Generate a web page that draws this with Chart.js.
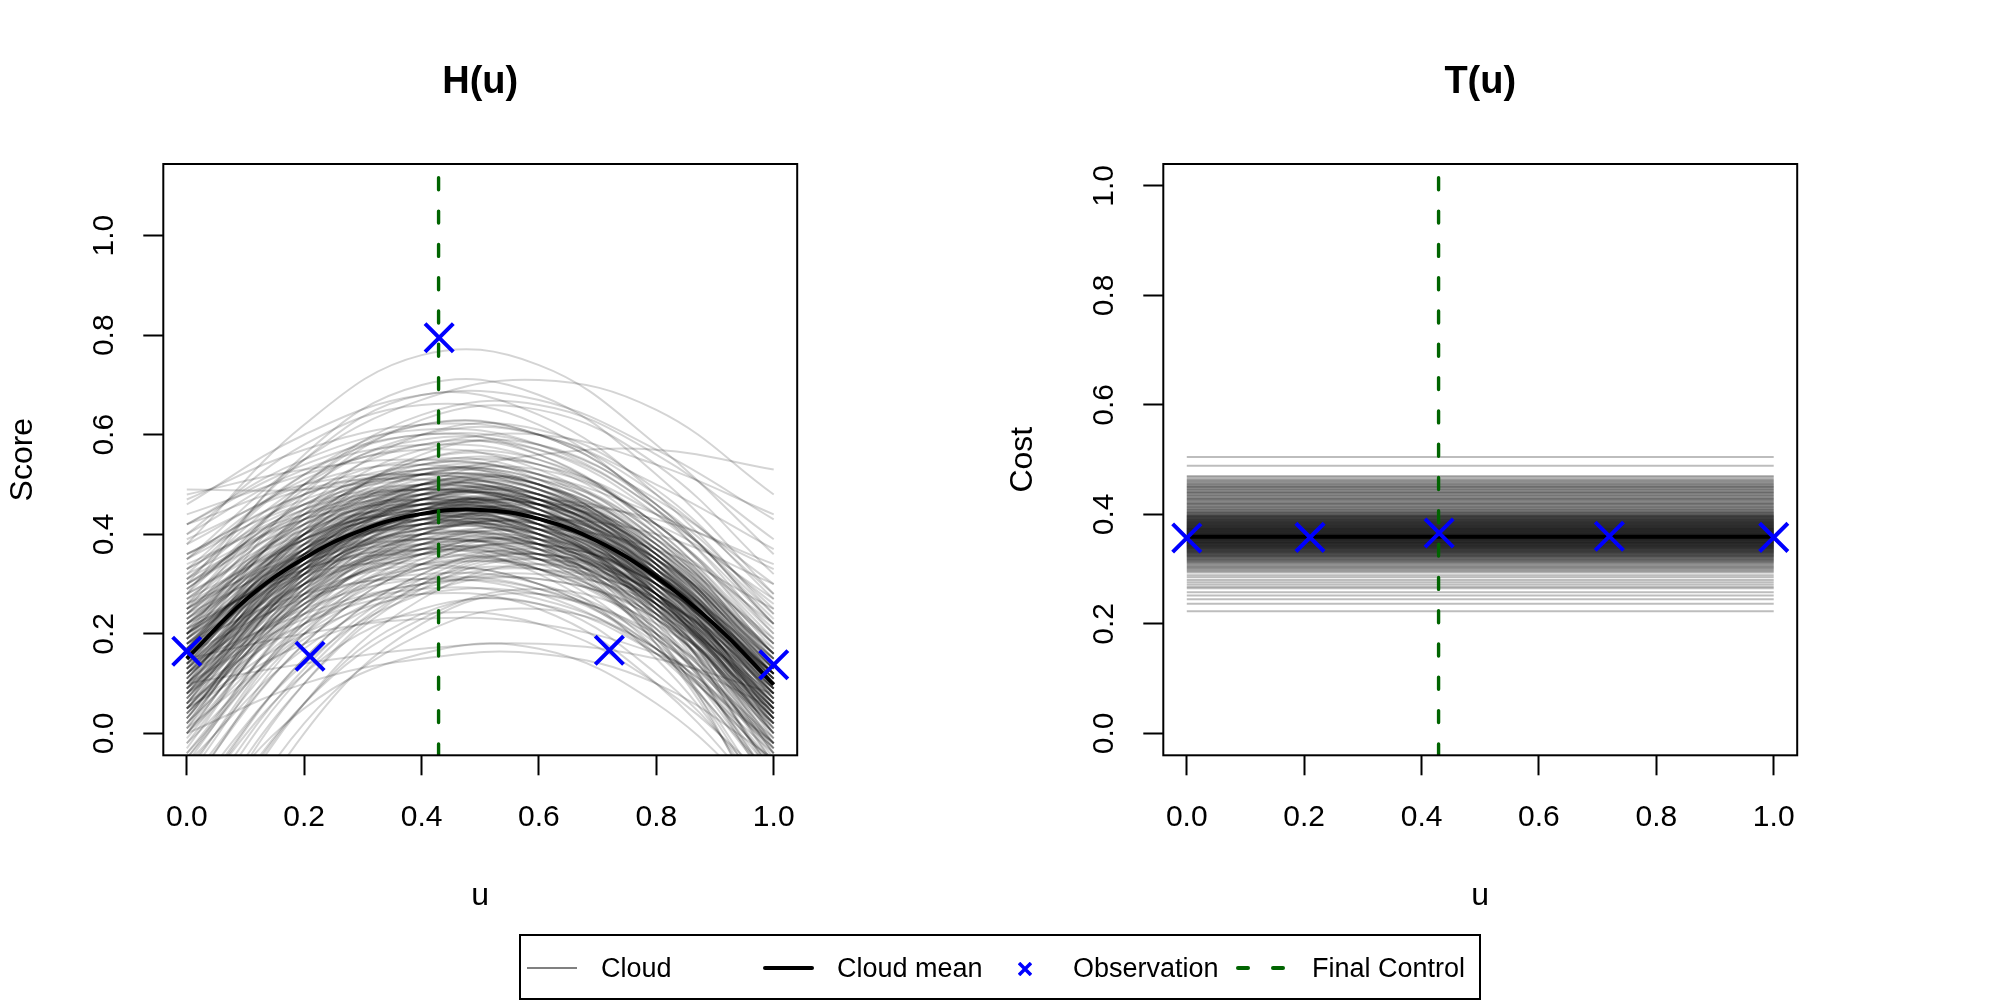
<!DOCTYPE html>
<html>
<head>
<meta charset="utf-8">
<title>H(u) and T(u)</title>
<script src="https://cdn.jsdelivr.net/npm/chart.js@4.4.1/dist/chart.umd.min.js"></script>
<style>
  html, body { margin: 0; padding: 0; background: #fff; }
  body {
    width: 2000px; height: 1000px; position: relative; overflow: hidden;
    font-family: "Liberation Sans", Arial, Helvetica, sans-serif;
  }
  canvas { position: absolute; top: 0; }
  #chartH { left: 0; }
  #chartT { left: 1000px; }
  #legendBox {
    position: absolute; left: 519px; top: 934px; width: 962px; height: 66px;
    border: 2px solid #000; box-sizing: border-box;
  }
  .lg { position: absolute; }
  .lg-text {
    position: absolute; top: 953px; line-height: 30px; font-size: 27px;
    color: #000; white-space: nowrap;
  }
</style>
</head>
<body>
<canvas id="chartH" width="1000" height="1000" style="width:1000px;height:1000px"></canvas>
<canvas id="chartT" width="1000" height="1000" style="width:1000px;height:1000px"></canvas>

<!-- legend shared by both panels -->
<div id="legendBox"></div>
<div class="lg" style="left:527px;top:967px;width:50px;height:2px;background:#808080"></div>
<span class="lg-text" style="left:601px">Cloud</span>
<div class="lg" style="left:763px;top:966px;width:51px;height:4px;background:#000;border-radius:2px"></div>
<span class="lg-text" style="left:837px">Cloud mean</span>
<svg class="lg" style="left:1018px;top:962px" width="14" height="14">
  <path d="M1 1L13 13M13 1L1 13" stroke="#0000ff" stroke-width="3.5"/>
</svg>
<span class="lg-text" style="left:1073px">Observation</span>
<div class="lg" style="left:1236px;top:966px;width:14px;height:4px;background:#006400;border-radius:2px"></div>
<div class="lg" style="left:1271px;top:966px;width:14px;height:4px;background:#006400;border-radius:2px"></div>
<span class="lg-text" style="left:1312px">Final Control</span>

<script>
// ---- data ----
const xTicks = [0, 0.2, 0.4, 0.6, 0.8, 1.0];
const yTicks = [0, 0.2, 0.4, 0.6, 0.8, 1.0];

// knots at which each cloud curve of H(u) was read
const uKnots = [0, 0.2, 0.4, 0.6, 0.8, 1.0];

const meanU = [0, 0.1, 0.2, 0.3, 0.4, 0.5, 0.6, 0.7, 0.8, 0.9, 1.0];
const meanH = [0.15, 0.268, 0.352, 0.409, 0.441, 0.449, 0.431, 0.386, 0.314, 0.218, 0.098];
const meanT = 0.359;

const obsU = [0, 0.21, 0.43, 0.72, 1.0];
const obsH = [0.165, 0.155, 0.795, 0.167, 0.138];
const obsT = [0.357, 0.358, 0.366, 0.36, 0.358];

const finalControl = 0.429;

// H(u) cloud curves, one row per curve, values at uKnots
const cloudH = [
  [0.15, 0.36, 0.46, 0.45, 0.33, 0.12], [0.10, 0.31, 0.41, 0.40, 0.28, 0.06],
  [0.20, 0.40, 0.48, 0.46, 0.33, 0.11], [0.05, 0.28, 0.40, 0.42, 0.32, 0.12],
  [0.25, 0.42, 0.48, 0.44, 0.30, 0.08], [0.12, 0.35, 0.47, 0.48, 0.37, 0.16],
  [0.18, 0.33, 0.40, 0.38, 0.26, 0.04], [0.00, 0.25, 0.38, 0.40, 0.30, 0.10],
  [0.30, 0.45, 0.50, 0.46, 0.32, 0.10], [0.08, 0.32, 0.45, 0.46, 0.34, 0.10],
  [0.22, 0.38, 0.44, 0.41, 0.27, 0.03], [-0.05, 0.22, 0.36, 0.39, 0.30, 0.11],
  [0.35, 0.47, 0.52, 0.50, 0.38, 0.16], [0.14, 0.40, 0.52, 0.50, 0.36, 0.12],
  [0.17, 0.30, 0.36, 0.35, 0.24, 0.03], [0.02, 0.30, 0.45, 0.47, 0.36, 0.13],
  [0.28, 0.40, 0.44, 0.40, 0.26, 0.02], [0.11, 0.34, 0.43, 0.40, 0.25, 0.00],
  [0.19, 0.37, 0.47, 0.48, 0.38, 0.18], [-0.10, 0.18, 0.34, 0.38, 0.30, 0.12],
  [0.38, 0.50, 0.54, 0.49, 0.34, 0.10], [0.06, 0.36, 0.50, 0.50, 0.35, 0.08],
  [0.24, 0.35, 0.40, 0.39, 0.30, 0.12], [0.13, 0.28, 0.34, 0.33, 0.23, 0.05],
  [0.09, 0.38, 0.52, 0.52, 0.40, 0.16], [0.16, 0.42, 0.55, 0.54, 0.40, 0.14],
  [0.21, 0.33, 0.37, 0.34, 0.21, -0.02], [-0.02, 0.20, 0.31, 0.33, 0.25, 0.07],
  [0.32, 0.43, 0.46, 0.42, 0.29, 0.07], [0.04, 0.26, 0.36, 0.36, 0.26, 0.06],
  [0.26, 0.44, 0.52, 0.49, 0.36, 0.14], [0.15, 0.34, 0.44, 0.46, 0.39, 0.22],
  [0.10, 0.33, 0.44, 0.42, 0.28, 0.02], [0.20, 0.36, 0.42, 0.40, 0.29, 0.09],
  [-0.15, 0.15, 0.32, 0.37, 0.30, 0.11], [0.42, 0.50, 0.52, 0.48, 0.36, 0.15],
  [0.07, 0.30, 0.42, 0.44, 0.35, 0.16], [0.23, 0.41, 0.49, 0.47, 0.33, 0.08],
  [0.12, 0.31, 0.39, 0.37, 0.24, 0.01], [0.18, 0.39, 0.50, 0.50, 0.38, 0.15],
  [0.03, 0.27, 0.39, 0.38, 0.25, 0.01], [0.27, 0.38, 0.41, 0.37, 0.24, 0.02],
  [0.14, 0.37, 0.49, 0.49, 0.37, 0.14], [-0.08, 0.23, 0.40, 0.44, 0.35, 0.12],
  [0.31, 0.48, 0.55, 0.52, 0.37, 0.12], [0.09, 0.29, 0.38, 0.36, 0.23, -0.02],
  [0.19, 0.34, 0.41, 0.41, 0.32, 0.14], [0.16, 0.38, 0.48, 0.45, 0.30, 0.05],
  [0.36, 0.46, 0.49, 0.45, 0.32, 0.11], [0.01, 0.33, 0.50, 0.53, 0.42, 0.18],
  [0.22, 0.32, 0.34, 0.30, 0.17, -0.06], [0.11, 0.36, 0.48, 0.47, 0.33, 0.07],
  [0.06, 0.24, 0.33, 0.34, 0.27, 0.12], [0.29, 0.46, 0.53, 0.51, 0.39, 0.18],
  [0.13, 0.32, 0.41, 0.39, 0.26, 0.03], [-0.20, 0.12, 0.30, 0.35, 0.27, 0.06],
  [0.25, 0.39, 0.45, 0.43, 0.31, 0.09], [0.17, 0.41, 0.53, 0.52, 0.39, 0.15],
  [0.08, 0.27, 0.35, 0.33, 0.21, -0.03], [0.34, 0.44, 0.47, 0.43, 0.31, 0.12],
  [0.05, 0.31, 0.42, 0.40, 0.22, -0.10], [-0.12, 0.20, 0.36, 0.38, 0.24, -0.05],
  [0.10, 0.34, 0.46, 0.44, 0.27, -0.06], [0.00, 0.29, 0.44, 0.45, 0.30, 0.00],
  [0.20, 0.40, 0.47, 0.42, 0.24, -0.08], [-0.25, 0.10, 0.30, 0.36, 0.28, 0.05],
  [0.14, 0.37, 0.47, 0.43, 0.23, -0.12], [0.03, 0.32, 0.47, 0.48, 0.33, 0.03],
  [-0.05, 0.25, 0.40, 0.42, 0.28, -0.02], [0.18, 0.37, 0.43, 0.37, 0.18, -0.15],
  [0.08, 0.35, 0.49, 0.49, 0.33, 0.01], [-0.30, 0.06, 0.27, 0.34, 0.27, 0.05],
  [0.12, 0.30, 0.37, 0.32, 0.15, -0.15], [0.24, 0.43, 0.50, 0.45, 0.28, -0.04],
  [-0.03, 0.28, 0.44, 0.47, 0.36, 0.10], [0.16, 0.33, 0.38, 0.33, 0.17, -0.10],
  [0.02, 0.24, 0.34, 0.33, 0.20, -0.06], [0.21, 0.44, 0.54, 0.51, 0.34, 0.05],
  [0.00, 0.10, 0.15, 0.16, 0.10, -0.05], [-0.35, 0.02, 0.20, 0.25, 0.17, -0.03],
  [0.10, 0.14, 0.17, 0.18, 0.15, 0.08], [-0.40, 0.00, 0.22, 0.28, 0.18, -0.08],
  [0.05, 0.18, 0.24, 0.22, 0.10, -0.10], [-0.20, 0.05, 0.16, 0.17, 0.06, -0.15],
  [0.15, 0.20, 0.23, 0.22, 0.16, 0.05], [-0.28, 0.06, 0.24, 0.26, 0.12, -0.12],
  [0.08, 0.22, 0.28, 0.25, 0.10, -0.15], [-0.15, 0.12, 0.25, 0.26, 0.16, -0.02],
  [0.38, 0.62, 0.76, 0.74, 0.58, 0.36], [0.49, 0.49, 0.52, 0.56, 0.57, 0.53],
  [0.46, 0.60, 0.68, 0.67, 0.57, 0.43], [0.35, 0.55, 0.67, 0.71, 0.65, 0.48],
  [0.28, 0.56, 0.70, 0.68, 0.52, 0.28], [0.44, 0.52, 0.58, 0.60, 0.54, 0.44],
  [0.20, 0.48, 0.63, 0.65, 0.54, 0.32], [0.47, 0.57, 0.62, 0.60, 0.50, 0.37],
  [0.32, 0.52, 0.62, 0.60, 0.46, 0.22], [0.40, 0.58, 0.66, 0.62, 0.45, 0.20],
  [0.25, 0.50, 0.64, 0.66, 0.56, 0.39], [0.42, 0.54, 0.60, 0.58, 0.47, 0.30],
  [0.48, 0.53, 0.55, 0.52, 0.44, 0.33], [0.30, 0.55, 0.68, 0.64, 0.48, 0.24],
  [0.12, 0.30, 0.40, 0.43, 0.40, 0.30], [0.20, 0.35, 0.44, 0.47, 0.42, 0.27],
  [0.05, 0.27, 0.38, 0.41, 0.37, 0.25], [0.26, 0.36, 0.43, 0.46, 0.43, 0.34],
  [0.13, 0.36, 0.45, 0.40, 0.20, -0.20], [0.22, 0.39, 0.44, 0.38, 0.18, -0.18],
  [0.06, 0.33, 0.44, 0.39, 0.19, -0.14], [0.17, 0.40, 0.50, 0.46, 0.26, -0.09],
  [0.16, 0.37, 0.45, 0.43, 0.30, 0.08], [0.09, 0.32, 0.44, 0.44, 0.33, 0.11],
  [0.21, 0.39, 0.46, 0.44, 0.31, 0.09], [0.04, 0.29, 0.42, 0.43, 0.32, 0.10],
  [0.27, 0.43, 0.49, 0.45, 0.31, 0.08], [0.13, 0.34, 0.45, 0.46, 0.35, 0.14],
  [0.19, 0.35, 0.42, 0.40, 0.27, 0.05], [0.01, 0.27, 0.40, 0.42, 0.32, 0.12],
  [0.29, 0.44, 0.49, 0.45, 0.31, 0.09], [0.07, 0.31, 0.43, 0.44, 0.32, 0.09],
  [0.23, 0.39, 0.45, 0.42, 0.28, 0.04], [-0.04, 0.24, 0.38, 0.41, 0.31, 0.10],
  [0.33, 0.46, 0.51, 0.48, 0.35, 0.13], [0.15, 0.39, 0.50, 0.48, 0.34, 0.10],
  [0.18, 0.32, 0.38, 0.37, 0.26, 0.05], [0.03, 0.31, 0.46, 0.47, 0.35, 0.11],
  [0.26, 0.39, 0.43, 0.39, 0.25, 0.01], [0.12, 0.35, 0.44, 0.41, 0.27, 0.03],
  [0.20, 0.38, 0.46, 0.46, 0.36, 0.16], [-0.07, 0.20, 0.35, 0.39, 0.31, 0.13],
  [0.36, 0.48, 0.52, 0.47, 0.32, 0.08], [0.07, 0.35, 0.48, 0.48, 0.34, 0.09],
  [0.23, 0.36, 0.42, 0.41, 0.31, 0.11], [0.14, 0.30, 0.37, 0.36, 0.25, 0.04],
  [0.10, 0.37, 0.50, 0.50, 0.38, 0.14], [0.17, 0.40, 0.52, 0.51, 0.38, 0.13],
  [0.20, 0.34, 0.39, 0.36, 0.23, 0.00], [0.00, 0.22, 0.34, 0.36, 0.28, 0.09],
  [0.30, 0.42, 0.46, 0.43, 0.30, 0.08], [0.05, 0.28, 0.38, 0.38, 0.28, 0.08],
  [0.24, 0.42, 0.50, 0.47, 0.34, 0.12], [0.16, 0.35, 0.45, 0.46, 0.37, 0.19],
  [0.11, 0.34, 0.45, 0.43, 0.29, 0.04], [0.19, 0.36, 0.43, 0.41, 0.30, 0.10],
  [-0.11, 0.18, 0.34, 0.38, 0.30, 0.10], [0.39, 0.49, 0.51, 0.47, 0.34, 0.13],
  [0.08, 0.31, 0.43, 0.45, 0.35, 0.15], [0.22, 0.40, 0.48, 0.46, 0.32, 0.07],
  [0.13, 0.32, 0.41, 0.39, 0.26, 0.03], [0.17, 0.38, 0.48, 0.48, 0.36, 0.13],
  [0.04, 0.28, 0.41, 0.40, 0.27, 0.03], [0.25, 0.37, 0.42, 0.39, 0.26, 0.04],
  [0.15, 0.36, 0.47, 0.47, 0.36, 0.13], [-0.06, 0.25, 0.41, 0.44, 0.34, 0.11],
  [0.29, 0.46, 0.53, 0.50, 0.36, 0.11], [0.10, 0.30, 0.40, 0.38, 0.25, 0.00],
  [0.18, 0.35, 0.42, 0.42, 0.33, 0.13], [0.15, 0.37, 0.47, 0.44, 0.30, 0.06],
  [0.33, 0.45, 0.49, 0.46, 0.33, 0.12], [0.03, 0.32, 0.48, 0.51, 0.40, 0.16],
  [0.21, 0.33, 0.36, 0.33, 0.20, -0.03], [0.12, 0.37, 0.49, 0.47, 0.32, 0.06],
  [0.08, 0.26, 0.36, 0.37, 0.29, 0.12], [0.27, 0.45, 0.52, 0.49, 0.37, 0.16],
  [0.14, 0.33, 0.42, 0.41, 0.28, 0.05], [-0.16, 0.15, 0.32, 0.36, 0.28, 0.08],
  [0.24, 0.40, 0.46, 0.44, 0.32, 0.10], [0.16, 0.40, 0.51, 0.50, 0.37, 0.14],
  [0.10, 0.29, 0.37, 0.35, 0.23, -0.01], [0.31, 0.43, 0.47, 0.44, 0.32, 0.12],
  [0.07, 0.32, 0.43, 0.41, 0.25, -0.06], [-0.09, 0.22, 0.37, 0.39, 0.26, -0.02],
  [0.11, 0.35, 0.46, 0.43, 0.28, -0.03], [0.02, 0.30, 0.45, 0.46, 0.31, 0.02],
  [0.19, 0.39, 0.46, 0.42, 0.26, -0.04], [-0.18, 0.13, 0.31, 0.36, 0.28, 0.06],
  [0.13, 0.36, 0.46, 0.42, 0.25, -0.08], [0.05, 0.33, 0.47, 0.47, 0.32, 0.04],
  [-0.02, 0.27, 0.42, 0.43, 0.29, 0.00], [0.17, 0.36, 0.43, 0.38, 0.21, -0.10],
  [0.09, 0.36, 0.49, 0.48, 0.32, 0.03], [-0.22, 0.10, 0.29, 0.35, 0.28, 0.07],
  [0.14, 0.32, 0.39, 0.35, 0.19, -0.10], [0.23, 0.42, 0.49, 0.45, 0.29, -0.01],
  [0.00, 0.29, 0.44, 0.46, 0.35, 0.09], [0.17, 0.34, 0.39, 0.35, 0.20, -0.07],
  [0.04, 0.26, 0.36, 0.35, 0.22, -0.04], [0.20, 0.43, 0.53, 0.50, 0.34, 0.07],
  [0.11, 0.33, 0.43, 0.41, 0.27, 0.02], [0.06, 0.30, 0.42, 0.42, 0.29, 0.04],
  [0.28, 0.41, 0.45, 0.41, 0.27, 0.05], [0.09, 0.28, 0.37, 0.38, 0.31, 0.15],
  [0.22, 0.37, 0.44, 0.44, 0.35, 0.17], [-0.01, 0.26, 0.39, 0.40, 0.29, 0.06],
  [0.14, 0.38, 0.50, 0.49, 0.35, 0.10], [0.18, 0.37, 0.45, 0.42, 0.28, 0.03],
  [0.06, 0.33, 0.45, 0.43, 0.28, 0.00], [0.25, 0.41, 0.47, 0.44, 0.30, 0.06],
  [0.12, 0.33, 0.44, 0.44, 0.33, 0.12], [0.02, 0.25, 0.37, 0.38, 0.28, 0.07],
  [0.30, 0.44, 0.48, 0.43, 0.28, 0.04], [0.16, 0.34, 0.43, 0.43, 0.34, 0.15],
  [0.08, 0.34, 0.47, 0.46, 0.31, 0.05], [0.20, 0.35, 0.40, 0.37, 0.24, 0.02],
  [-0.04, 0.21, 0.33, 0.35, 0.26, 0.06], [0.35, 0.51, 0.57, 0.53, 0.39, 0.16],
  [0.13, 0.41, 0.55, 0.55, 0.42, 0.19], [0.24, 0.47, 0.58, 0.56, 0.41, 0.17],
  [0.40, 0.53, 0.58, 0.55, 0.42, 0.21], [0.19, 0.44, 0.57, 0.57, 0.45, 0.23],
  [0.31, 0.50, 0.59, 0.57, 0.44, 0.22], [0.10, 0.40, 0.56, 0.58, 0.46, 0.25],
  [0.28, 0.49, 0.60, 0.60, 0.48, 0.28], [0.36, 0.48, 0.54, 0.54, 0.44, 0.26],
  [0.22, 0.43, 0.54, 0.54, 0.42, 0.20], [0.06, 0.22, 0.30, 0.29, 0.19, -0.01],
  [-0.13, 0.14, 0.28, 0.31, 0.23, 0.03], [0.12, 0.25, 0.31, 0.29, 0.17, -0.06],
  [-0.26, 0.06, 0.23, 0.29, 0.22, 0.02], [0.09, 0.26, 0.33, 0.30, 0.16, -0.09],
  [0.18, 0.28, 0.31, 0.28, 0.16, -0.04], [0.05, 0.20, 0.28, 0.28, 0.20, 0.02],
  [0.14, 0.24, 0.30, 0.31, 0.24, 0.08], [-0.06, 0.17, 0.29, 0.32, 0.26, 0.09],
  [0.10, 0.23, 0.29, 0.27, 0.17, -0.02], [0.01, 0.19, 0.30, 0.33, 0.27, 0.10],
  [0.16, 0.27, 0.32, 0.30, 0.19, -0.02], [0.26, 0.50, 0.62, 0.60, 0.46, 0.22],
  [0.33, 0.52, 0.60, 0.56, 0.41, 0.18], [0.17, 0.45, 0.60, 0.61, 0.49, 0.27],
  [0.42, 0.55, 0.61, 0.58, 0.45, 0.24]
];

// T(u) cloud: every member is a flat line, one cost level each
const cloudT = [
  0.505, 0.489, 0.470, 0.468, 0.465, 0.463, 0.461, 0.459,
  0.457, 0.456, 0.454, 0.453, 0.451, 0.450, 0.449, 0.447, 0.446, 0.444, 0.443,
  0.441, 0.440, 0.439, 0.437, 0.436, 0.434, 0.433, 0.431, 0.430, 0.428, 0.427,
  0.426, 0.424, 0.423, 0.421, 0.420, 0.419, 0.417, 0.416, 0.414, 0.413, 0.412,
  0.410, 0.409, 0.408, 0.406, 0.405, 0.404, 0.403, 0.402, 0.401, 0.400,
  0.3990, 0.3982, 0.3975, 0.3968, 0.3960, 0.3952, 0.3946, 0.3938, 0.3931, 0.3925,
  0.3917, 0.3910, 0.3904, 0.3897, 0.3890, 0.3884, 0.3877, 0.3871, 0.3864, 0.3858,
  0.3851, 0.3846, 0.3840, 0.3833, 0.3827, 0.3821, 0.3815, 0.3809, 0.3803, 0.3797,
  0.3791, 0.3786, 0.3780, 0.3774, 0.3768, 0.3763, 0.3757, 0.3751, 0.3746, 0.3740,
  0.3735, 0.3729, 0.3724, 0.3718, 0.3713, 0.3707, 0.3702, 0.3696, 0.3691, 0.3686,
  0.3680, 0.3675, 0.3670, 0.3664, 0.3659, 0.3654, 0.3648, 0.3643, 0.3638, 0.3633,
  0.3627, 0.3622, 0.3617, 0.3612, 0.3606, 0.3601, 0.3596, 0.3591, 0.3585, 0.3580,
  0.3575, 0.3570, 0.3564, 0.3559, 0.3554, 0.3549, 0.3543, 0.3538, 0.3533, 0.3527,
  0.3522, 0.3517, 0.3511, 0.3506, 0.3501, 0.3495, 0.3490, 0.3484, 0.3479, 0.3473,
  0.3468, 0.3462, 0.3457, 0.3451, 0.3445, 0.3440, 0.3434, 0.3428, 0.3422, 0.3416,
  0.3410, 0.3404, 0.3398, 0.3392, 0.3386, 0.3380, 0.3373, 0.3367, 0.3360, 0.3354,
  0.3347, 0.3340, 0.3333, 0.3326, 0.3319, 0.3312, 0.3304, 0.3297, 0.3289, 0.3281,
  0.3273, 0.3265, 0.3256, 0.3248, 0.3239, 0.3230, 0.3220, 0.3211, 0.3201, 0.3190,
  0.3180, 0.3169, 0.3157, 0.3145, 0.3133, 0.3120, 0.3106,
  0.3090, 0.3072, 0.3055, 0.3038, 0.3020, 0.3001, 0.2982, 0.2962, 0.2940,
  0.289, 0.285, 0.280, 0.276, 0.272, 0.268, 0.265, 0.258, 0.252, 0.245, 0.237, 0.223
];

// ---- chart setup ----
const FONT = '"Liberation Sans", Arial, Helvetica, sans-serif';
Chart.defaults.font.family = FONT;
Chart.defaults.color = "#000";

// R-style box round the plot region
const plotBox = {
  id: "plotBox",
  afterDatasetsDraw(chart) {
    const { ctx, chartArea: a } = chart;
    ctx.save();
    ctx.lineWidth = 2;
    ctx.strokeStyle = "#000";
    ctx.strokeRect(a.left, a.top, a.right - a.left, a.bottom - a.top);
    ctx.restore();
  }
};

function fixedTicks(values) {
  return scale => { scale.ticks = values.map(v => ({ value: v })); };
}

function makeChart(canvasId, o) {
  const datasets = [
    {
      data: o.obs, showLine: false, pointStyle: "crossRot", pointRadius: 20,
      pointBorderWidth: 4, pointBorderColor: "#0000ff",
      pointBackgroundColor: "rgba(0,0,0,0)", order: 0, clip: false
    },
    {
      data: [{ x: finalControl, y: o.yMax }, { x: finalControl, y: o.yMin }],
      borderColor: "#006400", borderWidth: 3.4, borderDash: [12, 21.3],
      borderDashOffset: 19.5, borderCapStyle: "round", pointRadius: 0, order: 1
    },
    {
      data: o.mean, borderColor: "#000", borderWidth: 4, tension: 0.4,
      pointRadius: 0, order: 2
    }
  ];
  o.cloud.forEach(d => datasets.push({
    data: d, borderColor: o.cloudColor, borderWidth: o.cloudWidth, tension: 0.4,
    pointRadius: 0, order: 3
  }));

  const tickGrid = {
    drawOnChartArea: false, drawTicks: true, tickLength: 20,
    tickWidth: 2, tickColor: "#000"
  };

  return new Chart(document.getElementById(canvasId), {
    type: "line",
    data: { datasets },
    options: {
      responsive: false,
      animation: false,
      devicePixelRatio: 1,
      events: [],
      layout: { padding: { left: 0, right: 202.8, top: 0, bottom: 0 } },
      elements: { line: { capBezierPoints: false } },
      scales: {
        x: {
          type: "linear", min: -0.04, max: 1.04,
          afterBuildTicks: fixedTicks(xTicks),
          afterFit: s => { s.height = 244.7; },
          grid: tickGrid,
          border: { display: false },
          ticks: {
            autoSkip: false, maxRotation: 0, padding: 24.3,
            font: { size: 30 }, callback: v => v.toFixed(1)
          },
          title: {
            display: true, text: "u", font: { size: 32 },
            padding: { top: 0, bottom: 84.8 }
          }
        },
        y: {
          type: "linear", min: o.yMin, max: o.yMax,
          afterBuildTicks: fixedTicks(yTicks),
          afterFit: s => { s.width = 163.3; },
          grid: tickGrid,
          border: { display: false },
          ticks: {
            autoSkip: false, minRotation: 90, maxRotation: 90,
            crossAlign: "center", padding: 17.3,
            font: { size: 30 }, callback: v => v.toFixed(1)
          },
          title: {
            display: true, text: o.yTitle, font: { size: 32 },
            padding: { top: 4, bottom: 0 }
          }
        }
      },
      plugins: {
        legend: { display: false },
        tooltip: { enabled: false },
        title: {
          display: true, text: o.title, fullSize: false,
          font: { size: 38, weight: "bold" },
          padding: { top: 60.2, bottom: 58.2 }
        }
      }
    },
    plugins: [plotBox]
  });
}

makeChart("chartH", {
  title: "H(u)", yTitle: "Score", yMin: -0.044, yMax: 1.144,
  cloudColor: "rgba(0,0,0,0.17)", cloudWidth: 2,
  cloud: cloudH.map(r => r.map((v, i) => ({ x: uKnots[i], y: v }))),
  mean: meanH.map((v, i) => ({ x: meanU[i], y: v })),
  obs: obsH.map((v, i) => ({ x: obsU[i], y: v }))
});

makeChart("chartT", {
  title: "T(u)", yTitle: "Cost", yMin: -0.04, yMax: 1.04,
  cloudColor: "rgba(0,0,0,0.26)", cloudWidth: 2,
  cloud: cloudT.map(v => [{ x: 0, y: v }, { x: 1, y: v }]),
  mean: [{ x: 0, y: meanT }, { x: 1, y: meanT }],
  obs: obsT.map((v, i) => ({ x: obsU[i], y: v }))
});
</script>
</body>
</html>
